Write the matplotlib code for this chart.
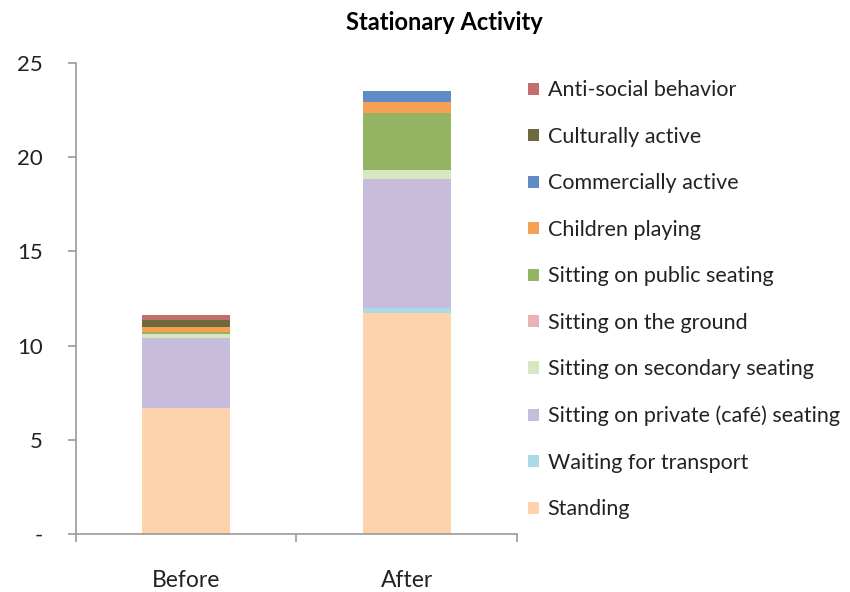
import numpy as np
import matplotlib
matplotlib.use("Agg")
from matplotlib import pyplot as plt

plt.rcParams['font.family'] = ['Lato', 'DejaVu Sans']

# stacked from the bottom up
periods = ['Before', 'After']
categories = ['Standing', 'Waiting for transport', 'Sitting on private (café) seating',
              'Sitting on secondary seating', 'Sitting on the ground',
              'Sitting on public seating', 'Children playing', 'Commercially active',
              'Culturally active', 'Anti-social behavior']
standing = [6.7, 11.75]
waiting = [0.0, 0.27]
private_seating = [3.7, 6.8]
secondary_seating = [0.2, 0.5]
ground = [0.0, 0.0]
public_seating = [0.1, 3.0]
children = [0.3, 0.6]
commercial = [0.0, 0.6]
cultural = [0.35, 0.0]
antisocial = [0.3, 0.0]

series = [standing, waiting, private_seating, secondary_seating, ground,
          public_seating, children, commercial, cultural, antisocial]
colors = ['#fcd3ab', '#a9dbe6', '#c7bcdb', '#d8e6c2', '#e8b4b3',
          '#93b563', '#f7a053', '#5f8cc4', '#6e6a3e', '#c46e6c']

fig = plt.figure(figsize=(8.5, 5.92), dpi=100)
ax = fig.add_axes([76 / 850, 1 - 534 / 592, 441 / 850, (534 - 63) / 592])

x = np.arange(len(periods))
bottom = np.zeros(len(periods))
handles = []
for vals, col, lab in zip(series, colors, categories):
    b = ax.bar(x, vals, width=0.4, bottom=bottom, color=col, label=lab, linewidth=0)
    handles.append(b)
    bottom += np.array(vals)

ax.set_xlim(-0.5, 1.5)
ax.set_ylim(0, 25)
ax.set_yticks([0, 5, 10, 15, 20, 25])
ax.set_yticklabels(['-', '5', '10', '15', '20', '25'])
ax.set_xticks([-0.5, 0.5, 1.5], minor=False)
ax.set_xticklabels(['', '', ''])
ax.set_xticks(x, minor=True)
ax.set_xticklabels(periods, minor=True)
ax.tick_params(axis='x', which='minor', length=0, pad=26, labelsize=16.5, labelcolor='#222222')
ax.tick_params(axis='x', which='major', length=6, color='#999999', width=1.2)
ax.tick_params(axis='y', length=6, color='#999999', width=1.2, labelsize=16,
               labelcolor='#222222', pad=18)
for s in ['top', 'right']:
    ax.spines[s].set_visible(False)
for s in ['left', 'bottom']:
    ax.spines[s].set_color('#999999')
    ax.spines[s].set_linewidth(1.2)

fig.text(444 / 850, 1 - 23 / 592, 'Stationary Activity', ha='center', va='center',
         fontsize=17, fontweight='bold')

leg = fig.legend(handles[::-1], categories[::-1], loc='upper left',
                 bbox_to_anchor=(509 / 850, 1 - 61 / 592), frameon=False,
                 fontsize=15.5, handlelength=0.5, handleheight=0.5, handletextpad=0.4,
                 labelspacing=1.23, labelcolor='#222222')

fig.savefig('out.png', dpi=100)
